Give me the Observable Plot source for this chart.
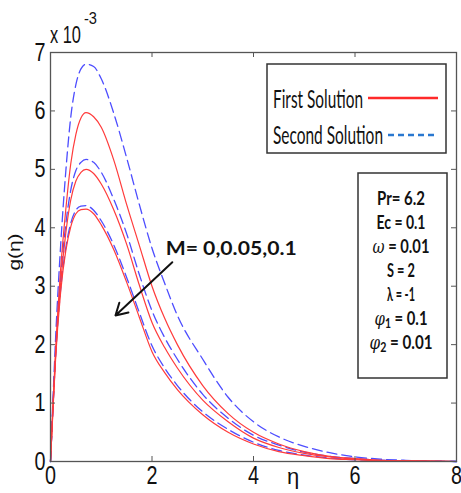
<!DOCTYPE html>
<html><head><meta charset="utf-8">
<script src="https://cdn.jsdelivr.net/npm/d3@7"></script>
<script src="https://cdn.jsdelivr.net/npm/@observablehq/plot@0.6"></script>
<style>body{margin:0;background:#fff} svg{display:block}</style>
</head><body><div id="chart"></div>
<script>
// eta grid
const eta = [0,0.05,0.1,0.2,0.3,0.4,0.5,0.6,0.7,0.85,1.0,1.25,1.5,1.75,2.0,2.25,2.5,3.0,3.5,4.0,4.5,5.0,5.5,6.0,6.5,7.0,8.0];
// g(eta) x 10^-3, First Solution, M = 0, 0.05, 0.1
const firstM0   = [0,1.0,1.9,3.3,4.3,5.1,5.6,5.88,5.97,5.9,5.72,5.15,4.4,3.7,3.0,2.45,2.0,1.3,0.82,0.5,0.3,0.17,0.09,0.05,0.02,0.01,0];
const firstM005 = [0,0.95,1.8,3.05,3.9,4.48,4.8,4.95,5.0,4.93,4.75,4.3,3.72,3.02,2.38,1.95,1.6,1.05,0.68,0.4,0.24,0.14,0.08,0.04,0.02,0.01,0];
const firstM01  = [0,0.9,1.75,2.9,3.6,4.02,4.24,4.31,4.32,4.24,4.05,3.62,3.07,2.47,1.88,1.52,1.23,0.8,0.5,0.3,0.17,0.1,0.05,0.03,0.01,0.01,0];
// Second Solution
const secondM0   = [0,1.1,2.1,3.7,4.95,5.9,6.45,6.72,6.8,6.76,6.55,5.95,5.2,4.4,3.65,3.05,2.5,1.75,1.1,0.68,0.42,0.26,0.15,0.08,0.04,0.02,0];
const secondM005 = [0,0.95,1.85,3.15,4.05,4.65,4.98,5.12,5.17,5.12,4.95,4.48,3.9,3.2,2.58,2.12,1.75,1.15,0.74,0.45,0.28,0.16,0.09,0.05,0.02,0.01,0];
const secondM01  = [0,0.95,1.8,2.95,3.65,4.08,4.3,4.37,4.38,4.3,4.12,3.7,3.15,2.55,1.98,1.6,1.3,0.85,0.55,0.33,0.19,0.11,0.06,0.03,0.02,0.01,0];

const xTicks = [0,2,4,6,8];
const yTicks = [0,1,2,3,4,5,6,7];
const arrowPts = [{x1:2.40, y1:3.41, x2:1.28, y2:2.50}];
const annotation = [{eta:2.28, g:3.52, text:"M= 0,0.05,0.1"}];
const legendLabels = ["First Solution","Second Solution"];
const params = ["Pr= 6.2","Ec = 0.1","ω = 0.01","S = 2","λ = -1","φ1 = 0.1","φ2 = 0.01"];

function rows(arr, id){ return eta.map((e,i)=>({eta:e, g:arr[i], id})); }
const firstRows = [...rows(firstM0,"M0"),...rows(firstM005,"M005"),...rows(firstM01,"M01")];
const secondRows = [...rows(secondM0,"M0"),...rows(secondM005,"M005"),...rows(secondM01,"M01")];

const W=461,H=493,mL=50,mR=5,mT=52,mB=32;
const iw=W-mL-mR, ih=H-mT-mB;
const NARROW = "'Liberation Sans Narrow','Liberation Sans',Arial,sans-serif";

const plot = Plot.plot({
  width:W, height:H,
  marginLeft:mL, marginRight:mR, marginTop:mT, marginBottom:mB,
  style:{fontFamily:NARROW, background:"#fff", color:"#111"},
  x:{domain:[0,8]},
  y:{domain:[0,7]},
  marks:[
    Plot.line(secondRows,{x:"eta",y:"g",z:"id",stroke:"#4d4dff",strokeWidth:1.3,strokeDasharray:"10,5",curve:"monotone-x"}),
    Plot.line(firstRows,{x:"eta",y:"g",z:"id",stroke:"#ff3b3b",strokeWidth:1.2,curve:"monotone-x"}),
    Plot.frame({stroke:"#555",strokeWidth:1.3}),
    Plot.ruleX(xTicks,{x:d=>d,insetTop:ih-5,stroke:"#555"}),
    Plot.ruleX(xTicks,{x:d=>d,insetBottom:ih-5,stroke:"#555"}),
    Plot.ruleY(yTicks,{y:d=>d,insetRight:iw-5,stroke:"#555"}),
    Plot.ruleY(yTicks,{y:d=>d,insetLeft:iw-5,stroke:"#555"}),
    Plot.axisX({ticks:xTicks,tickSize:0,tickPadding:4,fontSize:26,label:null,tickFormat:d3.format("d")}),
    Plot.axisY({ticks:yTicks,tickSize:0,tickPadding:5,fontSize:25,label:null,tickFormat:d3.format("d")}),
    Plot.arrow(arrowPts,{x1:"x1",y1:"y1",x2:"x2",y2:"y2",stroke:"#111",strokeWidth:2,headLength:10})
  ]
});
document.getElementById("chart").appendChild(plot);
const svg = d3.select(plot);
const xs = plot.scale("x"), ys = plot.scale("y");

// condense tick labels like the reference
svg.selectAll('[aria-label="x-axis tick label"] text, [aria-label="y-axis tick label"] text')
  .attr("textLength",11).attr("lengthAdjust","spacingAndGlyphs");

function txt(x,y,content,{size=16,family="Lato",weight="normal",anchor="start",len=null,rotate=0}={}){
  const t = svg.append("text")
    .attr("transform",`translate(${x},${y})`+(rotate?` rotate(${rotate})`:""))
    .attr("font-size",size).attr("font-family",family).attr("font-weight",weight)
    .attr("text-anchor",anchor).attr("fill","#111");
  content.forEach(p=>{
    const s = t.append("tspan").text(p.t);
    if(p.italic) s.attr("font-style","italic").attr("font-family","'DejaVu Serif',serif").attr("font-weight","normal");
    if(p.sub) s.attr("font-size",size*0.7).attr("dy",3);
    if(p.after) s.attr("dy",-3);
  });
  if(len) t.attr("textLength",len).attr("lengthAdjust","spacingAndGlyphs");
  return t;
}

// annotation
annotation.forEach(a=>{
  txt(xs.apply(a.eta), ys.apply(a.g), [{t:a.text}], {size:18,weight:"bold",len:131});
});

// axis titles
txt(mL, 43, [{t:"x 10"}], {size:23,family:NARROW,len:31});
txt(84, 24, [{t:"-3"}], {size:16,family:NARROW,len:13});
txt(293, 484, [{t:"η"}], {size:22,family:NARROW,anchor:"middle"});
txt(20, 252, [{t:"g(η)"}], {size:16,family:NARROW,anchor:"middle",rotate:-90,len:37});

// legend box
svg.append("rect").attr("x",267).attr("y",64).attr("width",179).attr("height",89)
  .attr("fill","#fff").attr("stroke","#333").attr("stroke-width",1.5);
txt(273,108,[{t:legendLabels[0]}],{size:25,len:90});
txt(273,144,[{t:legendLabels[1]}],{size:25,len:110});
svg.append("line").attr("x1",368).attr("x2",438).attr("y1",98).attr("y2",98)
  .attr("stroke","#ff2a2a").attr("stroke-width",2.5);
svg.append("line").attr("x1",388).attr("x2",438).attr("y1",135).attr("y2",135)
  .attr("stroke","#2a78d0").attr("stroke-width",2.5).attr("stroke-dasharray","6,4");

// parameter box
svg.append("rect").attr("x",358).attr("y",173).attr("width",89).attr("height",205)
  .attr("fill","#fff").attr("stroke","#333").attr("stroke-width",1.5);
const pw = [48,49,57,28,28,53,63];
const pParts = [
  [{t:params[0]}],
  [{t:params[1]}],
  [{t:"ω",italic:true},{t:" = 0.01"}],
  [{t:params[3]}],
  [{t:params[4]}],
  [{t:"φ",italic:true},{t:"1",sub:true},{t:" = 0.1",after:true}],
  [{t:"φ",italic:true},{t:"2",sub:true},{t:" = 0.01",after:true}]
];
pParts.forEach((p,i)=>{
  txt(401, 205+24*i, p, {size:18,weight:"bold",anchor:"middle",len:pw[i]});
});
</script>
</body></html>
